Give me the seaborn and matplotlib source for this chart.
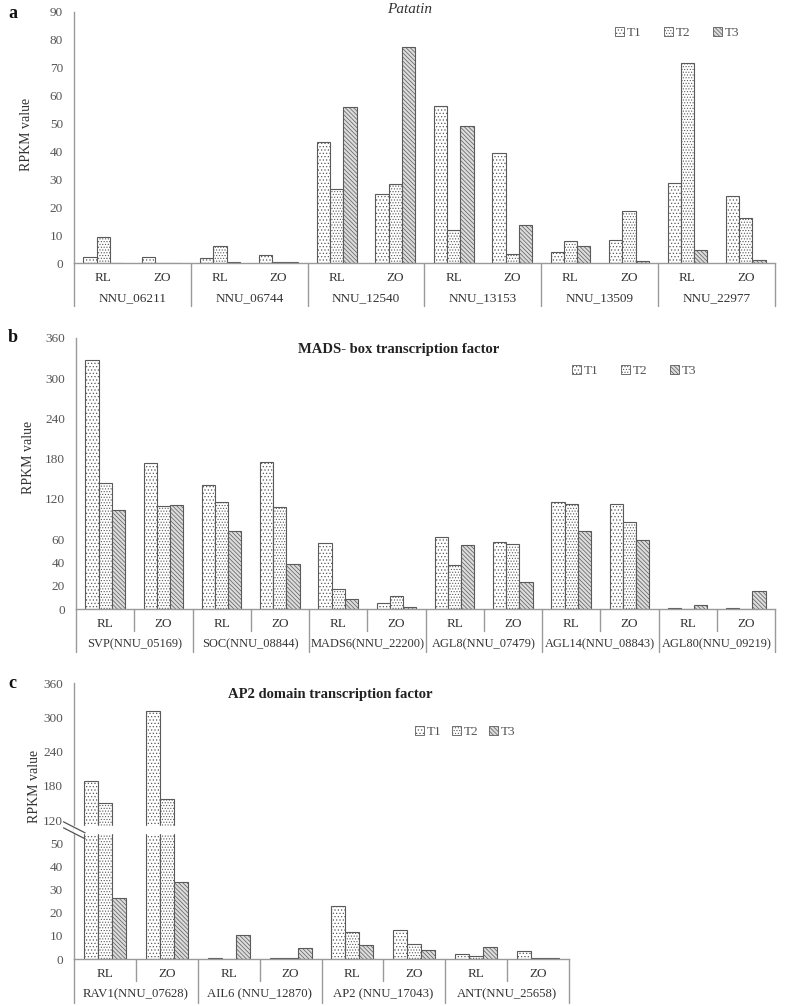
"""
RPKM de genes candidatos (Patatin, MADS-box, AP2) em RL e ZO, tratamentos T1-T3.
"""
import numpy as np
import pandas as pd
import matplotlib
matplotlib.use('Agg')
import matplotlib.pyplot as plt
from matplotlib.patches import Patch
import seaborn as sns

# ---- dados ----
tissues = ['RL', 'ZO']
treatments = ['T1', 'T2', 'T3']

genes_a = ['NNU_06211', 'NNU_06744', 'NNU_12540', 'NNU_13153', 'NNU_13509', 'NNU_22977']
a_T1 = [2.0, 2.0, 1.8, 2.7, 43.4, 24.9, 56.4, 39.5, 4.0, 8.3, 28.8, 24.2]
a_T2 = [9.3, 0.1, 6.1, 0.2, 26.6, 28.4, 11.9, 3.2, 8.0, 18.6, 71.8, 16.1]
a_T3 = [0.1, 0.0, 0.5, 0.4, 55.8, 77.6, 49.1, 13.7, 6.2, 0.8, 4.6, 0.9]
a_ticks = [0, 10, 20, 30, 40, 50, 60, 70, 80, 90]

genes_b = ['SVP(NNU_05169)', 'SOC(NNU_08844)', 'MADS6(NNU_22200)',
           'AGL8(NNU_07479)', 'AGL14(NNU_08843)', 'AGL80(NNU_09219)']
b_T1 = [327.7, 172.9, 140.6, 174.4, 56.3, 5.1, 63.5, 57.7, 115.2, 112.2, 0.5, 0.5]
b_T2 = [143.6, 109.3, 115.2, 108.3, 16.9, 11.4, 37.4, 55.7, 112.2, 84.9, 0.0, 0.0]
b_T3 = [103.3, 110.2, 71.9, 38.6, 8.6, 1.7, 54.9, 23.4, 71.4, 59.4, 3.4, 15.4]
b_ticks = [0, 20, 40, 60, 120, 180, 240, 300, 360]

genes_c = ['RAV1(NNU_07628)', 'AIL6 (NNU_12870)', 'AP2 (NNU_17043)', 'ANT(NNU_25658)']
c_T1 = [188.0, 310.7, 0.3, 0.6, 23.1, 12.7, 2.0, 3.3]
c_T2 = [150.2, 157.2, 0.1, 0.6, 11.8, 6.6, 1.2, 0.6]
c_T3 = [26.5, 33.3, 10.4, 4.9, 5.9, 3.7, 5.3, 0.3]
c_ticks = [0, 10, 20, 30, 40, 50, 120, 180, 240, 300, 360]

HATCHES = {'T1': '.....', 'T2': '......', 'T3': '\\\\\\\\\\\\\\\\'}
HATCH_COL = {'T1': '#4a4a4a', 'T2': '#a0a0a0', 'T3': '#666666'}
FACE = {'T1': 'white', 'T2': 'white', 'T3': '#dcdcdc'}
EDGE = '#5a5a5a'
GRAY_TXT = '#555555'
LINE = '#9a9a9a'

FIG_W, FIG_H = 787, 1006


def piecewise(xp, fp):
    """Escala linear por partes (eixo quebrado) com extrapolação linear"""
    xp = np.asarray(xp, float)
    fp = np.asarray(fp, float)

    def _map(v, a, b):
        v = np.asarray(v, float)
        out = np.interp(v, a, b)
        lo = v < a[0]
        hi = v > a[-1]
        s0 = (b[1] - b[0]) / (a[1] - a[0])
        s1 = (b[-1] - b[-2]) / (a[-1] - a[-2])
        out = np.where(lo, b[0] + (v - a[0]) * s0, out)
        out = np.where(hi, b[-1] + (v - a[-1]) * s1, out)
        return out

    return (lambda v: _map(v, xp, fp)), (lambda v: _map(v, fp, xp))


def make_df(genes, t1, t2, t3):
    rows = []
    pos = 0
    for g in genes:
        for t in tissues:
            for tr, vals in zip(treatments, (t1, t2, t3)):
                rows.append({'pos': str(pos), 'gene': g, 'tissue': t,
                             'treat': tr, 'value': vals[pos]})
            pos += 1
    return pd.DataFrame(rows)


def style_bar(bar, tr):
    bar.set_hatch(HATCHES[tr])
    bar.set_facecolor(FACE[tr])
    if hasattr(bar, 'set_hatchcolor'):
        bar.set_hatchcolor(HATCH_COL[tr])


def draw_panel(ax, df, genes, ticks, ylim, tissue_seps, sep_long_px, sep_short_px,
               gene_fs=9.5):
    n = len(genes) * 2
    order = [str(i) for i in range(n)]
    sns.barplot(data=df, x='pos', y='value', hue='treat', order=order,
                hue_order=treatments, width=0.68, gap=0, ax=ax,
                palette=['white'] * 3, edgecolor=EDGE,
                linewidth=0.8, legend=False, errorbar=None)
    for cont, tr in zip(ax.containers, treatments):
        for bar in cont:
            style_bar(bar, tr)
    ax.set_xlim(-0.5, n - 0.5)
    ax.set_ylim(*ylim)
    ax.set_yticks(ticks)
    ax.set_yticklabels([str(t) for t in ticks])
    ax.set_xticks([])
    ax.set_xlabel('')
    ax.tick_params(axis='y', length=0, pad=8, labelsize=9.5, labelcolor=GRAY_TXT)
    for s in ['top', 'right']:
        ax.spines[s].set_visible(False)
    for s in ['left', 'bottom']:
        ax.spines[s].set_color(LINE)
        ax.spines[s].set_linewidth(1.0)

    # rótulos em dois níveis abaixo do eixo
    ax_h_px = ax.get_position().height * FIG_H
    tr_x = ax.get_xaxis_transform()
    for i in range(n):
        ax.annotate(tissues[i % 2], xy=(i, 0), xycoords=tr_x,
                    xytext=(0, -15 * 0.72), textcoords='offset points',
                    ha='center', va='center', fontsize=9.5, color='#333333')
    for j, g in enumerate(genes):
        ax.annotate(g, xy=(2 * j + 0.5, 0), xycoords=tr_x,
                    xytext=(0, -35 * 0.72), textcoords='offset points',
                    ha='center', va='center', fontsize=gene_fs, color='#333333')
    for j in range(len(genes) + 1):
        x = 2 * j - 0.5
        ax.plot([x, x], [0, -sep_long_px / ax_h_px], transform=tr_x,
                color=LINE, lw=1.0, clip_on=False)
    if tissue_seps:
        for j in range(len(genes)):
            x = 2 * j + 0.5
            ax.plot([x, x], [0, -sep_short_px / ax_h_px], transform=tr_x,
                    color=LINE, lw=1.0, clip_on=False)


def add_legend(ax, anchor, spacing):
    handles = []
    for t in treatments:
        p = Patch(edgecolor=EDGE, lw=0.6, label=t)
        style_bar(p, t)
        handles.append(p)
    ax.legend(handles=handles, loc='center', bbox_to_anchor=anchor, ncol=3,
              frameon=False, handlelength=0.7, handleheight=0.7, handletextpad=0.2,
              columnspacing=spacing, fontsize=9.5, labelcolor=GRAY_TXT)


def fig_axes(left, right, top, bottom):
    return fig.add_axes([left / FIG_W, 1 - bottom / FIG_H,
                         (right - left) / FIG_W, (bottom - top) / FIG_H])


sns.set_style('white')
plt.rcParams['font.family'] = ['Liberation Serif', 'DejaVu Serif']
plt.rcParams['hatch.linewidth'] = 0.5

fig = plt.figure(figsize=(FIG_W / 100, FIG_H / 100), dpi=100)

# ---- painel a ----
ax_a = fig_axes(74, 775, 12, 263)
draw_panel(ax_a, make_df(genes_a, a_T1, a_T2, a_T3), genes_a, a_ticks, (0, 90),
           tissue_seps=False, sep_long_px=43, sep_short_px=0)
ax_a.text(0.479, 1.01, 'Patatin', transform=ax_a.transAxes, ha='center', va='center',
          fontsize=11, style='italic', color='#333333')
add_legend(ax_a, (0.86, 0.915), 1.7)
ax_a.set_ylabel('RPKM value', fontsize=10, color='#333333')
ax_a.yaxis.set_label_coords(-0.058, 0.514)

# ---- painel b (eixo com duas escalas) ----
ax_b = fig_axes(76, 775, 338, 609)
fwd_b, inv_b = piecewise([0, 60, 360], [0, 60, 232.3])
ax_b.set_yscale('function', functions=(fwd_b, inv_b))
draw_panel(ax_b, make_df(genes_b, b_T1, b_T2, b_T3), genes_b, b_ticks, (0, 360),
           tissue_seps=True, sep_long_px=43, sep_short_px=22, gene_fs=8.9)
ax_b.text(0.462, 0.956, 'MADS- box transcription factor', transform=ax_b.transAxes,
          ha='center', va='center', fontsize=10.5, fontweight='bold', color='#222222')
add_legend(ax_b, (0.798, 0.878), 1.7)
ax_b.set_ylabel('RPKM value', fontsize=10, color='#333333')
ax_b.yaxis.set_label_coords(-0.058, 0.56)

# ---- painel c (eixo quebrado entre 50 e 120) ----
ax_c = fig_axes(74, 569, 683, 959)
fwd_c, inv_c = piecewise([0, 50, 120, 360], [0, 50, 60, 119.4])
ax_c.set_yscale('function', functions=(fwd_c, inv_c))
draw_panel(ax_c, make_df(genes_c, c_T1, c_T2, c_T3), genes_c, c_ticks, (0, 360),
           tissue_seps=True, sep_long_px=44, sep_short_px=22, gene_fs=9.2)
ax_c.axhspan(82, 103, color='white', zorder=5)
for dy in (0, -6):
    ax_c.plot([-0.67, -0.32], [0.497 + dy / 276, 0.457 + dy / 276],
              transform=ax_c.get_xaxis_transform(), color='#555555', lw=0.9,
              clip_on=False, zorder=6)
ax_c.text(0.517, 0.957, 'AP2 domain transcription factor', transform=ax_c.transAxes,
          ha='center', va='center', fontsize=10.5, fontweight='bold', color='#222222')
add_legend(ax_c, (0.79, 0.822), 0.8)
ax_c.set_ylabel('RPKM value', fontsize=10, color='#333333')
ax_c.yaxis.set_label_coords(-0.066, 0.627)

# letras dos painéis
for lbl, y in (('a', 13), ('b', 337), ('c', 683)):
    fig.text(8 / FIG_W, 1 - y / FIG_H, lbl, fontsize=13, fontweight='bold',
             ha='left', va='center', color='#111111')

fig.savefig('out.png', dpi=100)
